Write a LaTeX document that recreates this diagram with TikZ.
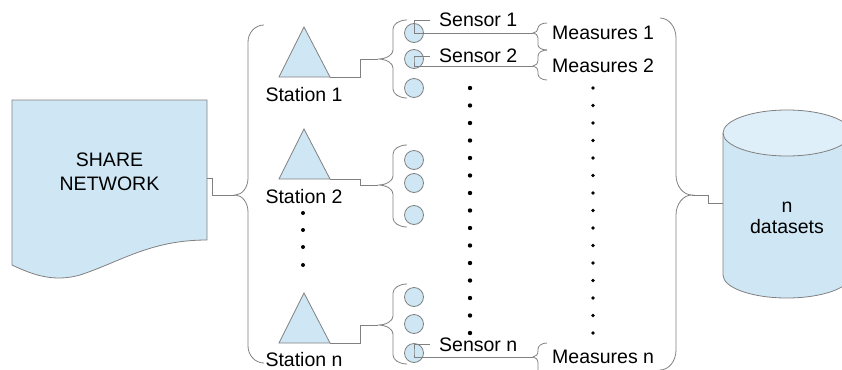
\documentclass[tikz,border=0pt]{standalone}
\usepackage{fontspec}
\setmainfont{Liberation Sans}
\definecolor{lc}{RGB}{128,128,128}
\definecolor{fb}{RGB}{207,231,245}
\definecolor{fbt}{RGB}{222,239,249}
\newcommand\mybrace[7]{% x, tipx, endx, top, tip, bottom, r
  \draw[ln] (#3,#4) .. controls ({#3+0.552*(#1-#3)},#4) and (#1,{#4+0.448*#7}) .. (#1,{#4+#7})
    -- (#1,{#5-#7}) .. controls (#1,{#5-0.448*#7}) and ({#2+0.552*(#1-#2)},#5) .. (#2,#5)
    .. controls ({#2+0.552*(#1-#2)},#5) and (#1,{#5+0.448*#7}) .. (#1,{#5+#7})
    -- (#1,{#6-#7}) .. controls (#1,{#6-0.448*#7}) and ({#3+0.552*(#1-#3)},#6) .. (#3,#6);}
\begin{document}
\begin{tikzpicture}[x=1pt,y=-1pt,
  ln/.style={draw=lc, line width=0.8pt},
  shp/.style={draw=lc, fill=fb, line width=0.8pt},
  sens/.style={circle, shp, minimum size=19pt, inner sep=0pt},
  lbl/.style={font=\fontsize{19.5}{24}\selectfont, inner sep=0pt, text=black}]

\useasboundingbox (0,0) rectangle (842,369);

% SHARE NETWORK document
\filldraw[shp] (12,100) -- (207,100) -- (207,240) .. controls (150,240) and (120,262) .. (80,275) .. controls (55,282) and (35,276) .. (12,265) -- cycle;
\node[lbl, align=center] (share) at (109.5,172) {SHARE\\NETWORK};
\coordinate (doce) at (207,178);

% big left brace
\coordinate (btip) at (235,195);
\mybrace{248}{235}{264}{25}{195}{363}{17}
\draw[ln] (doce) -- ++(5,0) |- (btip);

% stations
\foreach \n/\b/\t/\bt/\bb/\lab/\bl in {1/77/59/20/98/Station 1/101.5, 2/179/185/145/227/Station 2/203, 3/343/325/284/364/Station n/366}{
  \filldraw[shp] (279,\b) -- (304,{\b-50}) -- (330,\b) -- cycle;
  \coordinate (tr\n) at (330,\b);
  \node[lbl, anchor=base] (st\n) at (304,\bl) {\lab};
  \coordinate (sb\n) at (378,\t);
  \mybrace{393}{378}{407}{\bt}{\t}{\bb}{9}
  \draw[ln] (tr\n) -- ++(30,0) |- (sb\n);
}

% sensor circles
\foreach \id/\y in {a1/33,a2/59,a3/88,b1/160,b2/183,b3/215,c1/297,c2/324,c3/353}
  \node[sens] (\id) at (414,\y) {};

% sensor labels
\node[lbl, anchor=base west, inner xsep=9pt] (sn1) at (430,27) {Sensor 1};
\node[lbl, anchor=base west, inner xsep=9pt] (sn2) at (430,63) {Sensor 2};
\node[lbl, anchor=base west, inner xsep=9pt] (snn) at (430,351) {Sensor n};

% measures braces tips
\coordinate (m1) at (533,33);
\coordinate (m2) at (533,66);
\coordinate (mn) at (533,357);
\mybrace{538}{533}{547}{23}{33}{50}{5}
\mybrace{538}{533}{547}{50}{66}{80}{6}
\mybrace{538}{533}{547}{343}{357}{385}{6}

\draw[ln] (sn1.west) -| (a1.center) |- (m1);
\draw[ln] (sn2.west) -| (a2.center) |- (m2);
\draw[ln] (snn.west) -| (c3.center) |- (mn);

% measures labels
\node[lbl, anchor=base west] (ms1) at (552,40) {Measures 1};
\node[lbl, anchor=base west] (ms2) at (552,72) {Measures 2};
\node[lbl, anchor=base west] (msn) at (552,363) {Measures n};

% dots
\foreach \k in {0,...,14}{
  \fill (470,{88+17.5*\k}) circle[radius=2.2pt];
  \fill (593,{88+17.5*\k}) circle[radius=1.8pt];
}
\foreach \y in {213,230,247,265}
  \fill (303,\y) circle[radius=2pt];

% right brace
\coordinate (rtip) at (692,195);
\mybrace{676}{692}{660}{18}{195}{370}{20}

% cylinder
\fill[fb] (723,133) -- (723,275) arc[start angle=180,end angle=360,x radius=64pt,y radius=23pt] -- (851,133) -- cycle;
\fill[fbt] (787,133) ellipse[x radius=64pt, y radius=23pt];
\draw[ln] (723,133) -- (723,275) arc[start angle=180,end angle=360,x radius=64pt,y radius=23pt] -- (851,133);
\draw[ln] (787,133) ellipse[x radius=64pt, y radius=23pt];
\coordinate (cylw) at (723,203);
\node[lbl, align=center, font=\fontsize{19.5}{21}\selectfont] (ds) at (787,217.5) {n\\datasets};
\draw[ln] (rtip) -- ++(16,0) |- (cylw);

\end{tikzpicture}
\end{document}
